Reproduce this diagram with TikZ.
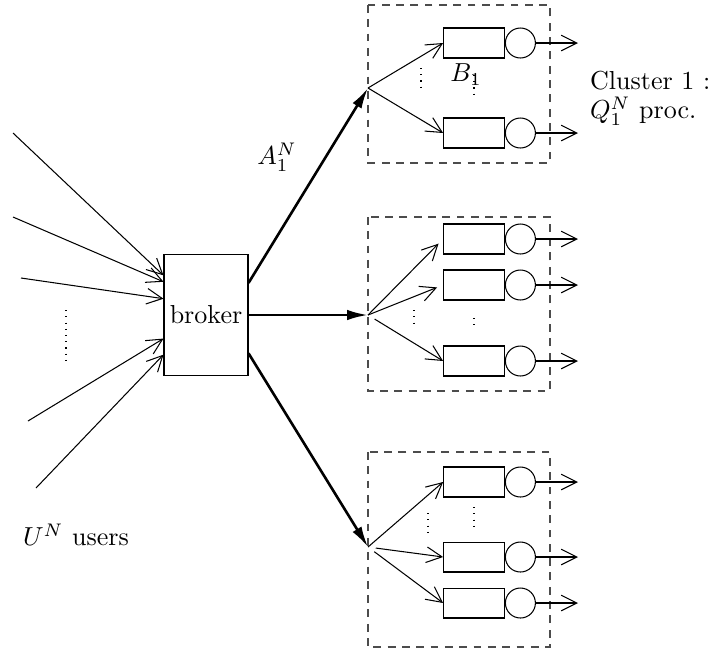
\documentclass[tikz,border=0pt]{standalone}
\usepackage{amsmath}
\usepackage{amssymb}
\usetikzlibrary{arrows.meta, positioning, calc}

\tikzset{
  buf/.style={draw, rectangle, minimum width=0.82cm, minimum height=0.405cm, inner sep=0pt},
  srv/.style={draw, circle, minimum size=0.405cm, inner sep=0pt},
  clus/.style={draw=black!70, dash pattern=on 3pt off 2.5pt},
  feed/.style={-{Straight Barb[length=6pt,width=6pt]}},
  route/.style={line width=1pt, -{Latex[length=8pt,width=4pt]}},
  lbl/.style={inner sep=1pt},
}

\begin{document}
\begin{tikzpicture}[x=0.0135cm, y=-0.0135cm]
\useasboundingbox (0,0) rectangle (720,650);
% Broker
\node[draw, minimum width=1.134cm, minimum height=1.63cm, inner sep=0pt] (broker) at (206,315) {broker};
% Users
\coordinate (u1) at (13,133);
\coordinate (u2) at (13,217);
\coordinate (u3) at (21,278);
\coordinate (u4) at (28,421);
\coordinate (u5) at (36,488);
\draw[feed] (u1) -- (broker.137.5);
\draw[feed] (u2) -- (broker.142.3);
\draw[feed] (u3) -- (broker.159.7);
\draw[feed] (u4) -- (broker.209.2);
\draw[feed] (u5) -- (broker.223.2);
\draw[dotted] (66,310) -- (66,363);
\node[lbl] (users) at (76,535) {$U^N$ users};
% Clusters
\draw[clus] (368,5) rectangle (550,163);
\draw[clus] (368,217) rectangle (550,391);
\draw[clus] (368,452) rectangle (550,647);
% Queues and servers
\foreach \q/\y in {a/43,b/133,c/239,d/285,e/361,f/482,g/557,h/603}{
  \node[buf] (b\q) at (474,\y) {};
  \node[srv, right=0pt of b\q] (s\q) {};
  \coordinate (o\q) at (578,\y);
  \draw[feed] (s\q) -- (o\q);
}
% Routing from the broker
\coordinate (f1) at (368,88);
\coordinate (f2) at (368,315);
\coordinate (f3) at (368,547);
\draw[route] (broker.37) -- (f1);
\draw[route] (broker.east) -- (f2);
\draw[route] (broker.-42) -- (f3);
% Cluster 1
\draw[feed] (f1) -- (ba.west);
\draw[feed] (f1) -- (bb.west);
% Cluster 2
\draw[feed, shorten >=2.5pt] (f2) -- (bc.west);
\draw[feed, shorten >=2.5pt] (f2) -- (bd.west);
\draw[feed, shorten <=3pt] (f2) -- (be.west);
% Cluster 3
\draw[feed] (f3) -- (bf.west);
\draw[feed, shorten <=3pt] (f3) -- (bg.west);
\draw[feed, shorten <=3pt] (f3) -- (bh.west);
% Dots
\draw[dotted] (421,68) -- (421,90);
\draw[dotted] (474,75) -- (474,98);
\draw[dotted] (414,310) -- (414,323);
\draw[dotted] (474,318) -- (474,330);
\draw[dotted] (428,513) -- (428,537);
\draw[dotted] (474,507) -- (474,528);
% Labels
\node[lbl] (lb) at (466,75) {$B_1$};
\node[lbl] (la) at (277,157) {$A_1^N$};
\node[lbl, anchor=west] (lc) at (587,81) {Cluster 1 :};
\node[lbl, anchor=west] (lq) at (587,111) {$Q_1^N$ proc.};
\end{tikzpicture}
\end{document}
